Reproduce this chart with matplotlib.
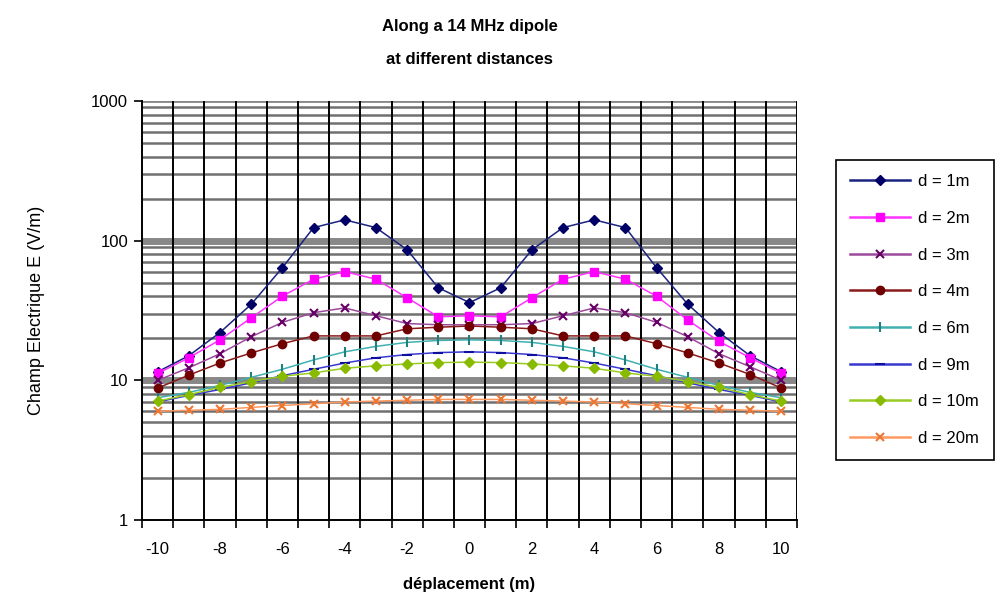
import matplotlib
matplotlib.use("Agg")
import matplotlib.pyplot as plt
import numpy as np
from matplotlib.ticker import FixedLocator

plt.rcParams['font.family'] = ['Liberation Sans', 'DejaVu Sans']

# ---- data ----
positions = list(range(-10, 11))
tick_labels = ["-10", "-8", "-6", "-4", "-2", "0", "2", "4", "6", "8", "10"]
series_names = ["d = 1m", "d = 2m", "d = 3m", "d = 4m", "d = 6m", "d = 9m", "d = 10m", "d = 20m"]

d1 = [11.5, 15, 22, 35, 64, 124, 141, 124, 86, 46, 36, 46, 86, 124, 141, 124, 64, 35, 22, 15, 11.5]
d2 = [11.2, 14.5, 19.5, 28, 40, 53, 60, 53, 39, 28.5, 29, 28.5, 39, 53, 60, 53, 40, 27, 19, 14.5, 11.2]
d3 = [10, 12.3, 15.5, 20.5, 26, 30.5, 33, 29, 25.5, 25, 25, 25, 25.5, 29, 33, 30.5, 26, 20.5, 15.5, 12.5, 10]
d4 = [8.8, 10.9, 13.3, 15.7, 18.3, 20.8, 20.8, 20.8, 23.4, 24, 24.5, 24, 23.4, 20.8, 20.8, 20.8, 18.3, 15.7, 13.3, 11, 8.8]
d6 = [7.5, 8.2, 9.2, 10.5, 12, 14, 16, 17.5, 18.7, 19.3, 19.5, 19.3, 18.7, 17.5, 16, 14, 12, 10.5, 9.2, 8.2, 7.5]
d9 = [7.0, 7.8, 8.6, 9.6, 10.8, 12, 13.3, 14.5, 15.3, 15.8, 16, 15.8, 15.3, 14.5, 13.3, 12, 10.8, 9.6, 8.6, 7.8, 7.0]
d10 = [7.1, 7.9, 8.9, 9.8, 10.7, 11.3, 12.2, 12.7, 13.1, 13.4, 13.5, 13.4, 13.1, 12.7, 12.2, 11.3, 10.7, 9.8, 8.9, 7.9, 7.1]
d20 = [6.0, 6.1, 6.2, 6.4, 6.6, 6.8, 7.0, 7.1, 7.2, 7.3, 7.3, 7.3, 7.2, 7.1, 7.0, 6.8, 6.6, 6.4, 6.2, 6.1, 6.0]

all_series = [d1, d2, d3, d4, d6, d9, d10, d20]
line_colors = ['#1a237e', '#ff33ff', '#9c4a9c', '#8b1a1a', '#40b0b0', '#3838d0', '#99cc22', '#ff9960']
marker_colors = ['#000066', '#ff00ff', '#660066', '#700000', '#208080', '#1010a0', '#88bb00', '#ee7733']
markers = ['D', 's', 'x', 'o', '|', '_', 'D', 'x']
msizes = [5, 6, 6, 6, 7, 7, 5, 6]

fig = plt.figure(figsize=(10.02, 6.07), dpi=100)
ax = fig.add_axes([142/1002, 1-520/607, (797-142)/1002, (520-101)/607])

ax.set_yscale('log')
ax.set_ylim(1, 1000)
ax.set_xlim(-10.5, 10.5)

# grid lines
minor_vals = [m * 10**k for k in range(0, 3) for m in range(2, 10)]
for v in minor_vals:
    ax.axhline(v, color='#707070', lw=1.8, zorder=1)
for v in [10, 100]:
    ax.axhline(v, color='#888888', lw=5, zorder=1)
ax.axhline(1000, color='#888888', lw=2, zorder=1)
for xv in np.arange(-9.5, 10.5, 1.0):
    ax.axvline(xv, color='black', lw=1.4, zorder=1.5)

for ys, name, lc, mc, mk, ms in zip(all_series, series_names, line_colors, marker_colors, markers, msizes):
    ax.plot(positions, ys, color=lc, lw=1.1, marker=mk, markersize=ms,
            markerfacecolor=mc, markeredgecolor=mc, markeredgewidth=1.5 if mk in ['x', '|', '_'] else 1.0,
            label=name, zorder=3)

# axes styling
for s in ['top', 'right']:
    ax.spines[s].set_visible(False)
ax.spines['left'].set_color('black')
ax.spines['left'].set_linewidth(1.4)
ax.spines['bottom'].set_color('black')
ax.spines['bottom'].set_linewidth(1.4)
ax.axvline(10.5, color='black', lw=1.4, zorder=1.5)

ax.yaxis.set_major_locator(FixedLocator([1, 10, 100, 1000]))
ax.yaxis.set_minor_locator(FixedLocator([]))
ax.set_yticklabels(["1", "10", "100", "1000"])
ax.tick_params(axis='y', which='major', length=6, width=1.2, direction='out', labelsize=12, pad=4)

ax.set_xticks(np.arange(-10.5, 11.0, 1.0), minor=True)
ax.set_xticks(list(range(-10, 11, 2)))
ax.set_xticklabels(tick_labels)
ax.tick_params(axis='x', which='major', length=0, labelsize=12, pad=16)
ax.tick_params(axis='x', which='minor', length=6, width=1.2, direction='out')

ax.set_xlabel("déplacement (m)", fontsize=12, fontweight='bold', labelpad=14)
ax.set_ylabel("Champ Electrique E (V/m)", fontsize=13, labelpad=33)
ax.set_title("Along a 14 MHz dipole\nat different distances", fontsize=12, fontweight='bold',
             pad=27, linespacing=2.45)

leg = fig.legend(loc='upper left', bbox_to_anchor=(836/1002, 1-160/607), fontsize=12,
                 frameon=True, fancybox=False, edgecolor='black', framealpha=1,
                 handlelength=3.6, labelspacing=1.3, borderpad=0.85, handletextpad=0.5,
                 borderaxespad=0)
leg.get_frame().set_linewidth(1.2)
for line in leg.get_lines():
    line.set_linewidth(1.8)

fig.savefig("out.png", dpi=100)
